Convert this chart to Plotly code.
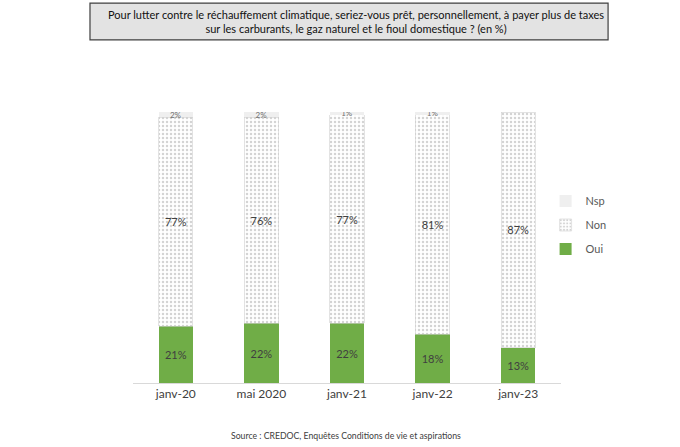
import plotly.graph_objects as go

periods = ['janv-20', 'mai 2020', 'janv-21', 'janv-22', 'janv-23']
oui = [21, 22, 22, 18, 13]
non = [77, 76, 77, 81, 87]
nsp = [2, 2, 1, 1, 0]

title_text = ('Pour lutter contre le réchauffement climatique, seriez-vous prêt, personnellement, à payer plus de taxes<br>'
              'sur les carburants, le gaz naturel et le fioul domestique ? (en %)')
source_text = 'Source : CREDOC, Enquêtes Conditions de vie et aspirations'

font_name = 'Lato'
label_col = '#404040'

fig = go.Figure()
fig.add_trace(go.Bar(x=periods, y=oui, name='Oui', legendgroup='oui', legendrank=3,
                     marker=dict(color='#70ad47', line=dict(width=0)),
                     text=[f'{v}%' for v in oui], textposition='inside',
                     insidetextanchor='middle', constraintext='none',
                     textfont=dict(size=11, color=label_col, family=font_name)))
fig.add_trace(go.Bar(x=periods, y=non, name='Non', legendgroup='non', legendrank=2,
                     marker=dict(color='white', line=dict(color='#d0d0d0', width=0.6),
                                 pattern=dict(shape='.', fgcolor='#a8a8a8', bgcolor='white',
                                              size=4, solidity=0.3)),
                     text=[f'{v}%' for v in non], textposition='inside',
                     insidetextanchor='middle', constraintext='none',
                     textfont=dict(size=11, color=label_col, family=font_name)))
fig.add_trace(go.Bar(x=periods, y=nsp, name='Nsp', legendgroup='nsp', legendrank=1,
                     marker=dict(color='#efefef', line=dict(width=0)),
                     text=[f'{v}%' for v in nsp], textposition='inside',
                     insidetextanchor='middle', constraintext='none',
                     textfont=dict(size=8, color='#707070', family=font_name)))

# title box
fig.add_shape(type='rect', xref='paper', yref='paper',
              x0=-0.1005, x1=1.110, y0=1.266, y1=1.402,
              fillcolor='#e3e3e3', line=dict(color='#404040', width=1.2), layer='below')
fig.add_annotation(text=title_text, xref='paper', yref='paper', x=0.521, y=1.334,
                   showarrow=False, xanchor='center', yanchor='middle', align='center',
                   font=dict(size=11, color='#111111', family=font_name))
fig.add_annotation(text=source_text, xref='paper', yref='paper', x=0.4975, y=-0.192,
                   showarrow=False, xanchor='center', yanchor='middle',
                   font=dict(size=8.7, color=label_col, family=font_name))

fig.update_layout(
    barmode='stack',
    bargap=0.6,
    width=680, height=447,
    margin=dict(l=133, r=119, t=112, b=64),
    paper_bgcolor='white', plot_bgcolor='white',
    showlegend=True,
    legend=dict(traceorder='grouped', tracegroupgap=5,
                x=0.964, y=0.583, xanchor='left', yanchor='middle',
                font=dict(size=11, color='#595959', family=font_name),
                itemwidth=30, bgcolor='rgba(0,0,0,0)'),
    font=dict(family=font_name),
)
fig.update_xaxes(showline=True, linecolor='#d9d9d9', linewidth=1, ticks='',
                 tickfont=dict(size=12, color=label_col, family=font_name), showgrid=False)
fig.update_yaxes(range=[0, 100], visible=False, showgrid=False)

fig.write_html('out.html', config={'displayModeBar': False},
               post_script="document.body.style.margin='0';")
